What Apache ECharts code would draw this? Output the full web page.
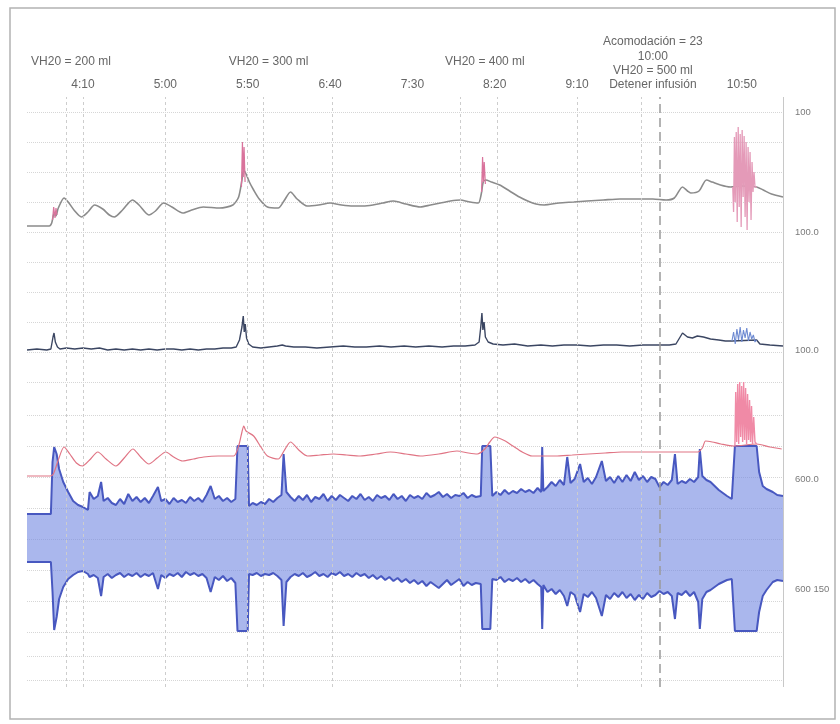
<!DOCTYPE html>
<html>
<head>
<meta charset="utf-8">
<script src="https://cdn.jsdelivr.net/npm/echarts@6/dist/echarts.min.js"></script>
<style>
  html, body { margin: 0; padding: 0; background: #fff; }
  #chart-container { width: 840px; height: 724px; }
</style>
</head>
<body>
<div id="chart-container"></div>
<script>
var dom = document.getElementById('chart-container');
var myChart = echarts.init(dom, null, { renderer: 'canvas' });

// time axis, minutes after midnight
var tMin = 216, tMax = 675;
var timeTicks = [250, 300, 350, 400, 450, 500, 550, 596, 650];
var timeLabels = ['4:10', '5:00', '5:50', '6:40', '7:30', '8:20', '9:10',
  'Acomodación = 23\n10:00\nVH20 = 500 ml\nDetener infusión', '10:50'];
var volumeTicks = [242.7, 362.7, 494];
var volumeLabels = ['VH20 = 200 ml', 'VH20 = 300 ml', 'VH20 = 400 ml'];
var gridTimes = [240, 250, 300, 350, 359.5, 401.5, 479, 501.5, 550, 589];
var stopTime = 600;

// right-hand scale labels
var p1Ticks = [120, 0], p1Text = ['100', '100.0'];
var p2Ticks = [32], p2Text = ['100.0'];
var p3Ticks = [153, 43], p3Text = ['600.0', '600 150'];

// panel 1: grey trace + pink artefacts
var p1Trace = [
  [216,6],[229.5,6],[231,9],[232.5,19],[233.5,16],[235,24],[238.5,34],[241,30],[245,21],[249,15],
  [253,20],[257,27],[262,23],[266,17],[269,15],[274,22],[280,32],[284,27],[290,17],[294,21],
  [299,29],[304,25],[310.6,19],[316,22],[323,25],[333,24],[341,27],[344.5,35],[346.5,52],[347.5,62],
  [349,58],[351,50],[353.6,42],[357,33],[362,25],[368.5,24],[372,31],[376,40],[380,33],[386,26],
  [393,27],[400,29],[407,27],[414,26],[420,26],[426,27],[432,29],[438.5,31],[446,28],[454.8,25],
  [461,27],[467,29],[473,31],[479,32],[485,30],[490,29],[491.8,38],[493,50],[494.5,52],[498,50],
  [503,47],[509,41],[515,35],[520,31],[525,28],[530,27],[539,29],[548,30],[556,31],[566,32],
  [576,33],[586,33],[596,33],[604,32],[609,34],[614,45],[617,41],[619,39],[624,41],[628.5,52],
  [632,50],[637,47],[643,45],[650,46],[659,45],[663,42],[668,38],[675,35]
];
var p1SpikeA = [[231.5,12],[232.2,25],[233,14],[233.6,24],[234.2,17]];
var p1SpikeB = [[346.2,45],[346.8,90],[347.3,55],[347.8,85],[348.4,50]];
var p1SpikeC = [[492,40],[492.6,75],[493.1,50],[493.6,70],[494.3,48]];
var p1Burst = [
  [644.5,45],[645,20],[645.5,95],[646,30],[646.6,100],[647.2,10],[647.8,105],[648.4,25],[649,98],[649.6,5],
  [650.2,102],[650.8,35],[651.4,96],[652,15],[652.6,90],[653.2,2],[653.8,85],[654.4,30],[655,80],[655.6,12],
  [656.2,70],[656.8,40],[657.4,60],[658,45],[659,45]
];

// panel 2: dark trace
var p2Trace = [
  [216,32],[222,33],[228,32],[230.5,33],[231.8,45],[232.4,49],[233.2,40],[234.5,35],[236,33],[240,34],
  [245,33],[250,34],[255,33],[260,34],[265,32],[270,33],[275,32],[280,33],[285,32],[290,33],
  [295,32],[300,33],[305,33],[310,32],[315,33],[320,32],[325,33],[330,33],[335,34],[340,34],
  [343,35],[345,42],[346.5,55],[347.3,66],[347.9,50],[348.5,58],[349.3,44],[350.6,38],[353,35],[358,34],
  [363,35],[368,36],[371,37],[373,36],[378,35],[385,35],[392,34],[400,35],[408,36],[415,35],
  [422,35],[430,36],[437,35],[445,36],[452,35],[460,36],[468,35],[475,36],[482,36],[488,37],
  [490.5,40],[491.5,55],[492.2,69],[492.8,52],[493.5,60],[494.3,45],[496,40],[499,38],[505,37],[512,38],
  [520,36],[528,37],[535,36],[542,37],[550,37],[558,36],[566,37],[574,37],[582,36],[590,37],
  [598,37],[606,37],[610,38],[614,49],[617,45],[620,44],[623,46],[626.7,45],[631,43],[636,42],
  [640,41],[644,41],[659,42],[661,38],[667,37],[675,36]
];
var p2Burst = [
  [644,41],[645,50],[646,38],[647,53],[648,42],[649,55],[650,40],[651,52],[652,44],[653,54],
  [654,41],[655,50],[656,43],[657,47],[658,40],[659,42]
];

// panel 3: red trace
var p3Red = [
  [216,156],[230,156],[232,158],[235,172],[238.5,185],[242,178],[246,169],[249.7,166],[254,172],[259,180],
  [264,173],[270,166],[275,174],[280.3,183],[285,175],[290,168],[295,174],[300.3,180],[305,175],[310.6,171],
  [317,173],[323.3,175],[332,176],[341.5,176],[344.5,186],[346.5,200],[347.6,206],[349,201],[353.6,196],[358,185],
  [362,176],[368.5,173],[372,181],[376,190],[381,182],[386.3,176],[394,177],[402,178],[410,177],[418.4,176],
  [428,178],[436.6,180],[446,178],[454.8,176],[466,178],[477,181],[484,179],[489.4,178],[494,183],[497,190],
  [500,195],[506.4,191],[511,186],[516.7,180],[522.7,176],[530,176],[536.7,176],[547,177],[557,178],[567,179],
  [577,180],[590,180],[600.9,180],[612,180],[623.3,180],[626,184],[628,191],[632,190],[637.3,188],[645,186],
  [659,188],[667,185],[674.2,183]
];
var p3Burst = [
  [645.8,186],[646.3,240],[646.9,190],[647.5,248],[648.1,188],[648.7,250],[649.3,195],[649.9,246],[650.5,190],[651.1,250],
  [651.7,192],[652.3,244],[652.9,188],[653.5,238],[654.1,192],[654.7,232],[655.3,190],[655.9,226],[656.5,188],[657.2,215],
  [658,190],[659,188]
];

// panel 3: blue pressure band (upper and lower envelope)
var bandTime = [
  216,230.5,231.5,232.5,234,235.5,238,241,244,247,
  250,253,254,256.5,259,261,262.5,265,267.5,270,
  272.5,275,277.5,280,282.5,285,287.5,290,292.5,295.5,
  297.5,300,302.5,305,307.5,310,312.5,315,317.5,320,
  322.5,325,327.5,330,332.5,335,337.5,340,342.5,343.8,
  350,350.8,353,355.5,358,360.5,363,365.5,368,370.5,
  371.8,373.5,376,378.5,381,383.5,386,388.5,391,393.5,
  396,398.5,401,403.5,406,408.5,411,413.5,416,418.5,
  421,423.5,426,428.5,431,433.5,436,438.5,441,443.5,
  446,448.5,451,453.5,456,458.5,461,463.5,466,468.5,
  471,473.5,476,478.5,481,483.5,486,488.5,491.5,492.4,
  497.3,498.5,501,503.5,506,508.5,511,513.5,516,518.5,
  521,523.5,526,528.2,528.8,529.5,532,534.5,537,539.5,
  542,544,546,548.5,551.8,554,556.5,559,561.5,565,
  567.5,570,572.5,575,577.5,580,582.5,585,587.5,590,
  592.5,595,597.5,600,602.5,605,607.5,609.4,611,613.5,
  616,618.5,621,623.5,624.5,626,628.5,631,633.5,636,
  638.5,641,643.9,645.8,659,660.5,662.7,665,668.8,671.5,
  675
];
var bandHigh = [
  118,118,170,185,178,163,150,140,131,127,
  125,122,140,133,136,150,131,134,129,127,
  133,128,138,131,135,130,134,129,136,145,
  131,133,128,134,130,132,129,135,131,134,
  130,137,146,133,136,131,134,130,133,186,
  186,126,129,127,130,128,133,130,134,137,
  178,140,135,131,136,132,137,130,135,133,
  138,131,136,132,137,134,131,136,133,138,
  132,135,131,137,134,136,132,138,133,136,
  131,137,134,136,133,139,135,137,140,135,
  138,134,137,136,139,134,137,135,136,186,
  186,136,140,137,142,138,141,139,143,140,
  142,139,144,140,185,141,145,150,146,152,
  147,175,149,153,168,150,154,148,155,171,
  151,155,149,156,150,157,151,160,152,156,
  150,155,153,145,150,147,152,178,148,151,
  149,153,150,155,183,156,152,150,146,142,
  139,136,133,186,186,160,146,143,140,137,
  136
];
var bandLow = [
  70,70,40,2,15,33,45,53,57,60,
  61,58,55,57,54,36,55,58,54,57,
  59,55,58,56,59,55,58,56,59,43,
  57,54,58,56,59,55,60,57,59,56,
  58,54,40,55,52,56,51,54,49,1,
  1,58,57,59,56,58,57,59,56,52,
  6,50,55,58,56,59,55,57,60,56,
  58,55,59,57,60,56,58,55,59,56,
  58,54,57,53,56,52,55,51,54,50,
  53,49,52,48,51,46,50,47,44,48,
  52,47,50,53,46,50,47,49,48,3,
  3,53,52,55,50,53,51,54,50,53,
  49,52,48,45,3,47,40,43,38,42,
  36,26,40,37,20,38,35,40,34,16,
  37,33,39,35,40,34,38,32,37,33,
  39,35,37,41,38,40,36,13,39,37,
  41,36,40,30,3,33,40,42,45,48,
  50,52,53,1,1,20,36,42,50,52,
  51
];

var font = 'Liberation Sans, Arial, sans-serif';
var gridColor = '#d6d6d6';

function labelFor(ticks, texts) {
  return function (v) {
    var best = 0;
    for (var i = 1; i < ticks.length; i++) {
      if (Math.abs(ticks[i] - v) < Math.abs(ticks[best] - v)) best = i;
    }
    return texts[best];
  };
}

function panelX(grid) {
  return { type: 'value', gridIndex: grid, min: tMin, max: tMax, show: false };
}

function panelY(grid, max, interval, ticks, texts) {
  return {
    type: 'value', gridIndex: grid, position: 'right', min: 0, max: max, interval: interval,
    axisLine: { show: false }, axisTick: { show: false },
    splitLine: { lineStyle: { type: 'dotted', color: gridColor, width: 1 } },
    axisLabel: ticks ? {
      customValues: ticks, formatter: labelFor(ticks, texts),
      fontSize: 9.5, color: '#7a7a7a', margin: 12, fontFamily: font
    } : { show: false }
  };
}

function trace(x, y, data, color, width, extra) {
  return Object.assign({
    type: 'line', xAxisIndex: x, yAxisIndex: y, data: data, symbol: 'none',
    silent: true, lineStyle: { color: color, width: width }
  }, extra || {});
}

var vLines = gridTimes.map(function (t) {
  return { xAxis: t, lineStyle: { color: '#cdcdcd', type: [3, 3], width: 1 } };
});
vLines.push({ xAxis: stopTime, lineStyle: { color: '#9a9a9a', type: [9, 5], width: 1.5 } });
vLines.push({ xAxis: tMax, lineStyle: { color: '#c8c8c8', type: 'solid', width: 1 } });

// filled band between the two envelopes, positioned through the axis scales
function renderBand(params, api) {
  if (params.dataIndex !== 0) return null;
  var pts = [];
  for (var i = 0; i < bandTime.length; i++) pts.push(api.coord([bandTime[i], bandHigh[i]]));
  for (var j = bandTime.length - 1; j >= 0; j--) pts.push(api.coord([bandTime[j], bandLow[j]]));
  return {
    type: 'polygon', shape: { points: pts },
    style: { fill: 'rgba(118,138,226,0.62)', stroke: null }
  };
}

option = {
  animation: false,
  backgroundColor: '#fff',
  graphic: [{
    type: 'rect', silent: true, z: -10,
    shape: { x: 10, y: 8, width: 825, height: 711 },
    style: { fill: 'none', stroke: '#b3b3b3', lineWidth: 1.5 }
  }],
  grid: [
    { left: 27, top: 97, width: 756, height: 590 },
    { left: 27, top: 112, width: 756, height: 120 },
    { left: 27, top: 262, width: 756, height: 120 },
    { left: 27, top: 415, width: 756, height: 217 },
    { left: 27, top: 632, width: 756, height: 48 }
  ],
  xAxis: [
    {
      type: 'value', gridIndex: 0, min: tMin, max: tMax, position: 'top',
      axisLine: { show: false }, axisTick: { show: false }, splitLine: { show: false },
      axisLabel: {
        customValues: timeTicks, formatter: labelFor(timeTicks, timeLabels),
        fontSize: 12, lineHeight: 14.3, color: '#666', margin: 5, fontFamily: font
      }
    },
    {
      type: 'value', gridIndex: 0, min: tMin, max: tMax, position: 'top', offset: 24,
      axisLine: { show: false }, axisTick: { show: false }, splitLine: { show: false },
      axisLabel: {
        customValues: volumeTicks, formatter: labelFor(volumeTicks, volumeLabels),
        fontSize: 12, color: '#666', margin: 5, fontFamily: font
      }
    },
    panelX(1), panelX(2), panelX(3), panelX(4)
  ],
  yAxis: [
    { type: 'value', gridIndex: 0, min: 0, max: 1, show: false },
    panelY(1, 120, 30, p1Ticks, p1Text),
    panelY(2, 120, 30, p2Ticks, p2Text),
    panelY(3, 217, 31, p3Ticks, p3Text),
    panelY(4, 48, 24, null, null)
  ],
  series: [
    trace(0, 0, [[tMin, 0], [tMax, 0]], '#fff', 0, {
      lineStyle: { opacity: 0 },
      markLine: { silent: true, symbol: ['none', 'none'], label: { show: false }, data: vLines }
    }),
    // panel 1
    trace(2, 1, p1Trace, '#8b8b8b', 1.6, { smooth: 0.25, z: 3 }),
    trace(2, 1, p1SpikeA, '#d9739c', 1.2, { z: 4 }),
    trace(2, 1, p1SpikeB, '#d9739c', 1.2, { z: 4 }),
    trace(2, 1, p1SpikeC, '#d9739c', 1.2, { z: 4 }),
    trace(2, 1, p1Burst, '#e49ab8', 1.3, { z: 4 }),
    // panel 2
    trace(3, 2, p2Trace, '#3b4662', 1.4, { z: 3 }),
    trace(3, 2, p2Burst, '#6f8bd2', 1.1, { z: 4 }),
    // panel 3 band
    {
      type: 'custom', xAxisIndex: 4, yAxisIndex: 3, silent: true, z: 1,
      data: bandTime.map(function (t, i) { return [t, bandLow[i], bandHigh[i]]; }),
      encode: { x: 0, y: [1, 2] },
      renderItem: renderBand
    },
    trace(4, 3, bandTime.map(function (t, i) { return [t, bandLow[i]]; }), '#4858c0', 2, { z: 2 }),
    trace(4, 3, bandTime.map(function (t, i) { return [t, bandHigh[i]]; }), '#4858c0', 2, { z: 2 }),
    trace(4, 3, p3Red, '#e07484', 1.2, { smooth: 0.25, z: 3 }),
    trace(4, 3, p3Burst, '#f08aa6', 1.4, { z: 4, clip: false })
  ]
};

if (option && typeof option === 'object') {
  myChart.setOption(option);
}

window.addEventListener('resize', myChart.resize);
</script>
</body>
</html>
